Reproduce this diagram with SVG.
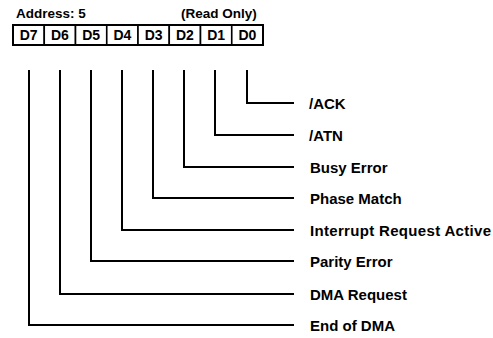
<svg xmlns="http://www.w3.org/2000/svg" width="493" height="338" viewBox="0 0 493 338">
<style>
text{font-family:"Liberation Sans",Arial,sans-serif;font-weight:bold;fill:#000}
.hdr{font-size:13.5px}
.bit{font-size:14px;text-anchor:middle}
.lbl{font-size:15px}
.cell{fill:#fff;stroke:#000;stroke-width:1.6}
.conn{fill:none;stroke:#000;stroke-width:2}
</style>
<rect width="493" height="338" fill="#fff"/>
<g id="header">
<text class="hdr" x="16" y="18">Address: 5</text>
<text class="hdr" x="181" y="18">(Read Only)</text>
</g>
<g id="register">
<g id="bit-D7"><rect class="cell" x="13" y="25" width="31.25" height="20"/><text class="bit" x="28.6" y="40">D7</text></g>
<g id="bit-D6"><rect class="cell" x="44.25" y="25" width="31.25" height="20"/><text class="bit" x="59.9" y="40">D6</text></g>
<g id="bit-D5"><rect class="cell" x="75.5" y="25" width="31.25" height="20"/><text class="bit" x="91.1" y="40">D5</text></g>
<g id="bit-D4"><rect class="cell" x="106.75" y="25" width="31.25" height="20"/><text class="bit" x="122.4" y="40">D4</text></g>
<g id="bit-D3"><rect class="cell" x="138" y="25" width="31.25" height="20"/><text class="bit" x="153.6" y="40">D3</text></g>
<g id="bit-D2"><rect class="cell" x="169.25" y="25" width="31.25" height="20"/><text class="bit" x="184.9" y="40">D2</text></g>
<g id="bit-D1"><rect class="cell" x="200.5" y="25" width="31.25" height="20"/><text class="bit" x="216.1" y="40">D1</text></g>
<g id="bit-D0"><rect class="cell" x="231.75" y="25" width="31.25" height="20"/><text class="bit" x="247.4" y="40">D0</text></g>
<rect x="13" y="25" width="250" height="20" fill="none" stroke="#000" stroke-width="2"/>
</g>
<g id="connectors">
<polyline class="conn" points="247,70 247,103 294,103"/>
<polyline class="conn" points="215,70 215,135 294,135"/>
<polyline class="conn" points="184,70 184,167 294,167"/>
<polyline class="conn" points="153,70 153,198 294,198"/>
<polyline class="conn" points="122,70 122,230 294,230"/>
<polyline class="conn" points="91,70 91,261 294,261"/>
<polyline class="conn" points="60,70 60,294 294,294"/>
<polyline class="conn" points="29,70 29,325 294,325"/>
</g>
<g id="label-ACK"><text class="lbl" x="309" y="108.5">/ACK</text></g>
<g id="label-ATN"><text class="lbl" x="309" y="140.5">/ATN</text></g>
<g id="label-busy"><text class="lbl" x="310" y="172.5">Busy Error</text></g>
<g id="label-phase"><text class="lbl" x="310" y="203.5">Phase Match</text></g>
<g id="label-irq"><text class="lbl" x="310" y="235.5" textLength="181">Interrupt Request Active</text></g>
<g id="label-parity"><text class="lbl" x="310" y="266.5">Parity Error</text></g>
<g id="label-dmareq"><text class="lbl" x="310" y="299.5">DMA Request</text></g>
<g id="label-eod"><text class="lbl" x="310" y="330.5">End of DMA</text></g>
</svg>
